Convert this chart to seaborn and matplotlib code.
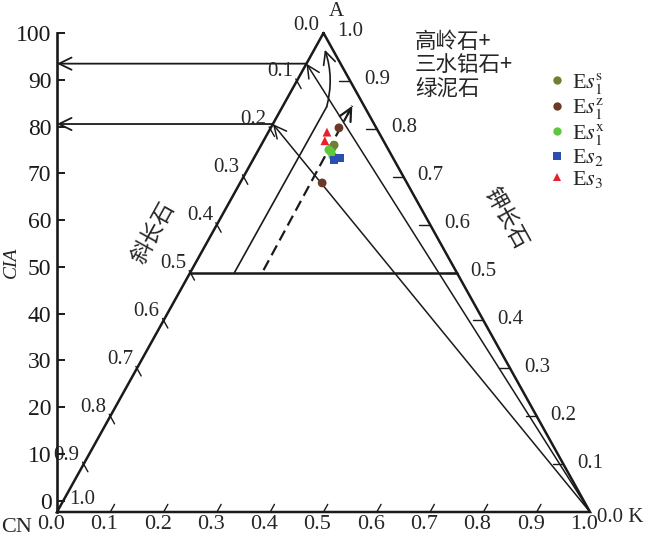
import numpy as np
import pandas as pd
import matplotlib
matplotlib.use("Agg")
import matplotlib.pyplot as plt
import seaborn as sns
from matplotlib.transforms import ScaledTranslation

sns.set_theme(style="white")
plt.rcParams['font.family'] = ['Liberation Serif', 'Noto Sans CJK SC', 'DejaVu Sans']
plt.rcParams['mathtext.fontset'] = 'stix'

# ---------------- data ----------------
series_labels = [r'E$s_1^{\rm s}$', r'E$s_1^{\rm z}$', r'E$s_1^{\rm x}$', r'E$s_2$', r'E$s_3$']
series_colors = ['#6f7f33', '#6a3a27', '#5ec83c', '#2a4fb0', '#e6202c']
series_markers = ['o', 'o', 'o', 's', '^']

sample_group = [0, 0, 1, 1, 2, 2, 2, 3, 3, 4, 4]
sample_A = [0.766, 0.760, 0.802, 0.687, 0.752, 0.743, 0.756, 0.739, 0.735, 0.793, 0.775]
sample_K = [0.137, 0.136, 0.128, 0.154, 0.138, 0.146, 0.132, 0.160, 0.152, 0.110, 0.115]

cia_ticks = [0, 10, 20, 30, 40, 50, 60, 70, 80, 90, 100]
edge_ticks = [0.0, 0.1, 0.2, 0.3, 0.4, 0.5, 0.6, 0.7, 0.8, 0.9, 1.0]
cia_projection = [93.6, 81.0]          # CIA values projected from K
trend_K = 0.083                         # weathering trend (solid)
trend_A = [0.50, 0.846, 0.965]
dashed_A = [0.505, 0.848]
dashed_K = [0.135, 0.130]
mineral_text = "高岭石+\n三水铝石+\n绿泥石"


def tern(A, K):
    A = np.asarray(A, float)
    K = np.asarray(K, float)
    return K + A / 2.0, 100.0 * A


# ---------------- figure ----------------
fig = plt.figure(figsize=(6.5, 5.36), dpi=100)
rect = [57 / 650, 24 / 536, 533 / 650, 479 / 536]
ax = fig.add_axes(rect)
ax.set_xlim(0, 1)
ax.set_ylim(0, 100)
ax.set_facecolor('none')
for s in ax.spines.values():
    s.set_visible(False)
ax.grid(False)

FS = 15
PX = 0.72  # px -> pt

# triangle frame
tx, ty = tern([1, 0, 0, 1], [0, 1, 0, 0])
ax.plot(tx, ty, color='k', lw=1.8, clip_on=False, solid_joinstyle='miter', zorder=3)
# CIA = 50 line
hx, hy = tern([0.5, 0.5], [0.0, 0.5])
ax.plot(hx, hy, color='k', lw=1.8, zorder=3)

arrow_kw = dict(arrowstyle='->,head_length=0.45,head_width=0.22', color='k',
                lw=1.1, mutation_scale=20, shrinkA=0, shrinkB=0)

# lines from K to left edge + horizontal arrows to CIA axis
for c in cia_projection:
    ex, ey = tern([c / 100.0], [0.0])
    kx, ky = tern([0.0], [1.0])
    ax.annotate('', xy=(ex[0], ey[0]), xytext=(kx[0], ky[0]),
                arrowprops=dict(arrow_kw), annotation_clip=False)
    ax.annotate('', xy=(0.0, c), xytext=(ex[0], ey[0]),
                arrowprops=dict(arrow_kw, lw=1.3), annotation_clip=False)

# solid weathering trend
sx, sy = tern(trend_A[:2], [trend_K, trend_K])
ax.plot(sx, sy, color='k', lw=1.2)
cx, cy = tern([trend_A[1], trend_A[2]], [trend_K, 0.02])
ax.annotate('', xy=(cx[1], cy[1]), xytext=(cx[0], cy[0]),
            arrowprops=dict(arrow_kw, lw=1.2, connectionstyle='arc3,rad=0.15'))

# dashed trend
dx, dy = tern(dashed_A, dashed_K)
ax.plot(dx, dy, color='k', lw=1.6, dashes=(5, 2.6))
ax.annotate('', xy=(dx[1], dy[1]), xytext=(dx[1] - (dx[1] - dx[0]) * 0.05, dy[1] - (dy[1] - dy[0]) * 0.05),
            arrowprops=dict(arrow_kw, lw=1.6))

# edge ticks
tl = 0.016
for v in edge_ticks[1:-1]:
    A = 1 - v
    x0, y0 = tern([A + 0.004, A - tl], [-0.004, tl])
    ax.plot(x0, y0, color='k', lw=1.0, clip_on=False)
    x1, y1 = tern([v, v], [1 - v, 1 - v - 0.02])
    ax.plot(x1, y1, color='k', lw=1.0, clip_on=False)
    x2, y2 = tern([0.0, tl], [v, v])
    ax.plot(x2, y2, color='k', lw=1.0, clip_on=False)

# edge labels: left (CN)
for v in edge_ticks:
    A = 1 - v
    px_, py_ = tern([A], [0.0])
    if v == 1.0:
        off = (25, 12)
    elif v == 0.0:
        off = (-17, 8)
    else:
        off = (-17, 9)
    ax.annotate(f"{v:.1f}", (px_[0], py_[0]), xytext=(off[0] * PX, off[1] * PX),
                textcoords='offset points', ha='center', va='center', fontsize=FS,
                annotation_clip=False)
# right (A)
for v in edge_ticks[1:]:
    px_, py_ = tern([v], [1 - v])
    ax.annotate(f"{v:.1f}", (px_[0], py_[0]), xytext=(27 * PX, 1 * PX),
                textcoords='offset points', ha='center', va='center', fontsize=FS,
                annotation_clip=False)
ax.annotate("0.0 K", (1.0, 0.0), xytext=(7 * PX, -5 * PX), textcoords='offset points',
            ha='left', va='center', fontsize=FS, annotation_clip=False)
ax.annotate("A", (0.5, 100), xytext=(13 * PX, 22 * PX), textcoords='offset points',
            ha='center', va='center', fontsize=FS, annotation_clip=False)
ax.annotate("CN", (0.0, 0.0), xytext=(-40 * PX, -15 * PX), textcoords='offset points',
            ha='center', va='center', fontsize=16, annotation_clip=False)

# bottom labels
ax.set_xticks(edge_ticks)
ax.set_xticklabels([f"{v:.1f}" for v in edge_ticks])
ax.tick_params(axis='x', length=0, pad=2, labelsize=16)
for lab in ax.get_xticklabels():
    lab.set_transform(lab.get_transform() + ScaledTranslation(-6 / 100, 0, fig.dpi_scale_trans))
ax.set_yticks([])

# mineral names
ax.text(415 / 650, 1 - 31 / 536, mineral_text, transform=fig.transFigure,
        family=['Noto Sans CJK SC'], fontsize=15.5, ha='left', va='top', linespacing=1.08)
ax.text(153 / 650, 1 - 233 / 536, "斜长石", transform=fig.transFigure,
        family=['Noto Sans CJK SC'], fontsize=16, rotation=61,
        ha='center', va='center', rotation_mode='anchor')
ax.text(506 / 650, 1 - 218 / 536, "钾长石", transform=fig.transFigure,
        family=['Noto Sans CJK SC'], fontsize=16, rotation=-61,
        ha='center', va='center', rotation_mode='anchor')

# samples
sx_, sy_ = tern(sample_A, sample_K)
df = pd.DataFrame({'x': sx_, 'y': sy_,
                   'group': [series_labels[g] for g in sample_group]})
sns.scatterplot(data=df, x='x', y='y', hue='group', style='group',
                hue_order=series_labels, style_order=series_labels,
                palette=dict(zip(series_labels, series_colors)),
                markers=dict(zip(series_labels, series_markers)),
                s=40, edgecolor='none', linewidth=0, ax=ax, zorder=5, clip_on=False)
ax.set_xlabel('')
ax.set_ylabel('')
handles, labels = ax.get_legend_handles_labels()
ax.get_legend().remove()
for h in handles:
    try:
        h.set_markersize(6)
        h.set_markeredgewidth(0)
    except Exception:
        pass
fig.legend(handles, labels, loc='upper left', bbox_to_anchor=(548 / 650, 1 - 71 / 536),
           bbox_transform=fig.transFigure, frameon=False, fontsize=16,
           handlelength=0.8, handletextpad=0.3, labelspacing=0.02, borderpad=0,
           borderaxespad=0)

# CIA axis
ax2 = fig.add_axes(rect)
ax2.set_facecolor('none')
ax2.set_ylim(-2.4, 100)
ax2.set_xlim(0, 1)
for k, s in ax2.spines.items():
    s.set_visible(k == 'left')
ax2.spines['left'].set_linewidth(1.9)
ax2.spines['left'].set_color('k')
ax2.set_xticks([])
ax2.set_yticks(cia_ticks)
ax2.tick_params(axis='y', direction='in', length=6, width=1.4, pad=4, labelsize=17,
                left=True, colors='k')
ax2.set_ylabel('CIA', fontstyle='italic', fontsize=14, labelpad=4)
ax2.yaxis.set_label_coords(-37 / 533, (512 - 262) / 479)
ax2.grid(False)

fig.savefig("out.png", dpi=100)
